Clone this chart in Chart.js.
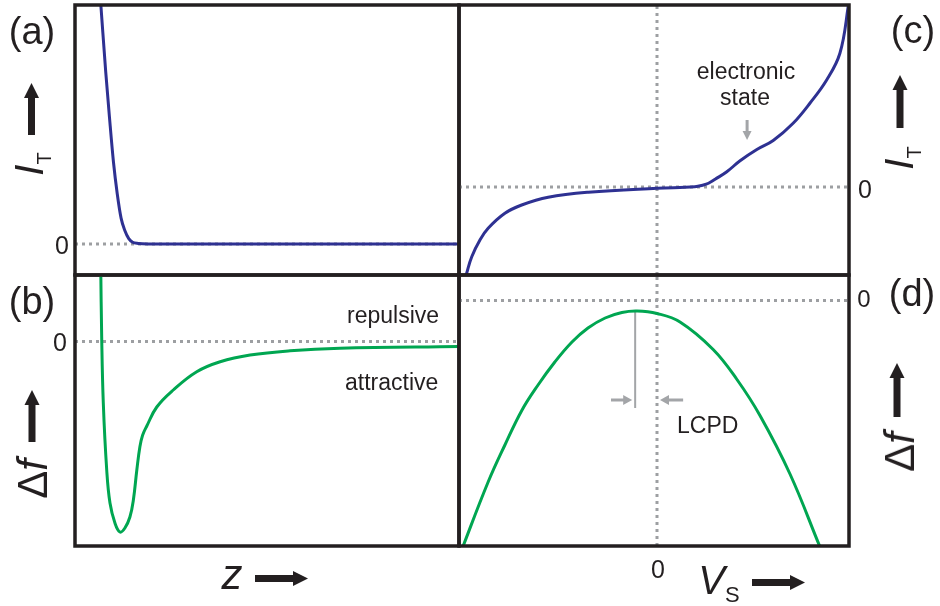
<!DOCTYPE html>
<html>
<head>
<meta charset="utf-8">
<script src="https://cdn.jsdelivr.net/npm/chart.js@4.4.1/dist/chart.umd.min.js"></script>
<style>
html, body { margin: 0; padding: 0; background: #fff; }
#wrap { position: relative; width: 940px; height: 606px; overflow: hidden; font-family: "Liberation Sans", Arial, sans-serif; color: #231f20; }
canvas { position: absolute; left: 0; top: 0; }
.t { position: absolute; line-height: 1; white-space: nowrap; transform: translate(-50%, -50%); }
.l { position: absolute; line-height: 1; white-space: nowrap; transform: translate(0, -50%); }
.rot { transform: translate(-50%, -50%) rotate(-90deg); }
.sub { font-style: normal; line-height: 0; }
</style>
</head>
<body>
<div id="wrap">
  <canvas id="pa" width="940" height="606"></canvas>
  <canvas id="pb" width="940" height="606"></canvas>
  <canvas id="pc" width="940" height="606"></canvas>
  <canvas id="pd" width="940" height="606"></canvas>

  <div class="t" style="left:32px;top:31px;font-size:38px">(a)</div>
  <div class="t" style="left:32px;top:301px;font-size:38px">(b)</div>
  <div class="t" style="left:913px;top:30px;font-size:38px">(c)</div>
  <div class="t" style="left:912px;top:293px;font-size:38px">(d)</div>

  <div class="t" style="left:62px;top:245px;font-size:25px">0</div>
  <div class="t" style="left:60px;top:342px;font-size:25px">0</div>
  <div class="t" style="left:865px;top:189px;font-size:25px">0</div>
  <div class="t" style="left:864px;top:299px;font-size:24px">0</div>
  <div class="t" style="left:658px;top:569px;font-size:25px">0</div>

  <div class="t rot" style="left:29px;top:164px;font-size:40px"><i>I</i><span class="sub" style="font-size:20px;vertical-align:-8px">T</span></div>
  <div class="t rot" style="left:899px;top:158px;font-size:40px"><i>I</i><span class="sub" style="font-size:20px;vertical-align:-8px">T</span></div>
  <div class="t rot" style="left:33px;top:479px;font-size:42px">&Delta;<i>f</i></div>
  <div class="t rot" style="left:900px;top:452px;font-size:42px">&Delta;<i>f</i></div>

  <div class="t" style="left:232px;top:575px;font-size:42px"><i>z</i></div>
  <div class="t" style="left:719px;top:580px;font-size:40px"><i>V</i><span class="sub" style="font-size:22px;vertical-align:-8px">S</span></div>

  <div class="l" style="left:347px;top:315px;font-size:23px">repulsive</div>
  <div class="l" style="left:345px;top:382px;font-size:23px">attractive</div>
  <div class="t" style="left:746px;top:71px;font-size:23px">electronic</div>
  <div class="t" style="left:745px;top:97px;font-size:23px">state</div>
  <div class="l" style="left:677px;top:425px;font-size:23px">LCPD</div>
</div>
<script>
// (a) tunnelling current I_T against distance z
const zA = [0.62, 0.7, 0.8, 0.9, 1.0, 1.1, 1.2, 1.3, 1.4, 1.5, 1.65, 1.9, 3, 10]
const iA = [11.2, 9.4, 7.2, 5.25, 3.45, 2.1, 1.08, 0.55, 0.22, 0.07, 0.02, 0, 0, 0]

// (b) frequency shift against distance z
const zB = [0.67, 0.695, 0.737, 0.826, 0.911, 1.04, 1.17, 1.3, 1.43, 1.52, 1.61, 1.69, 1.76, 1.87, 2.13, 2.56, 3.17, 3.78, 4.56, 5.6, 6.9, 10]
const dfB = [3.0, 0.18, -2.46, -5.14, -6.46, -7.26, -7.62, -7.46, -7.02, -6.34, -5.14, -4.21, -3.75, -3.38, -2.62, -1.94, -1.21, -0.81, -0.54, -0.37, -0.27, -0.2]

// (c) tunnelling current against sample bias
const vC = [-4.95, -4.88, -4.75, -4.54, -4.33, -3.9, -3.47, -2.79, -1.76, 0, 0.97, 1.19, 1.32, 1.49, 1.79, 2.13, 2.56, 2.98, 3.49, 3.92, 4.35, 4.69, 4.9, 5.0]
const iC = [-3.88, -3.45, -2.79, -2.12, -1.65, -1.05, -0.72, -0.41, -0.21, -0.05, 0.01, 0.08, 0.15, 0.31, 0.61, 1.05, 1.5, 1.86, 2.55, 3.35, 4.28, 5.35, 7.2, 8.5]

// (d) frequency shift against sample bias (Kelvin parabola)
const vD = [-5.03, -4.97, -4.33, -3.9, -3.46, -3.05, -2.62, -2.18, -1.77, -1.33, -0.9, -0.51, 0, 0.59, 1.44, 2.05, 2.64, 3.41, 4.18, 4.28]
const dfD = [-10.1, -9.82, -7.26, -5.78, -4.38, -3.38, -2.46, -1.66, -1.1, -0.7, -0.48, -0.42, -0.52, -0.86, -1.96, -3.16, -4.6, -6.94, -9.86, -10.22]

// LCPD marker: bias of the parabola maximum and the arrow level
const vMax = -0.56
const dfMaxTop = -0.42
const dfMarkBottom = -4.3
const dfArrow = -3.98

const W = 940, H = 606
const BLUE = '#2e3192', GREEN = '#00a651', DOT = '#9d9fa2', GREY = '#a3a5a8', INK = '#231f20'

const pts = (xs, ys) => xs.map((x, i) => ({ x, y: ys[i] }))
const curve = (data, color) => ({ data, borderColor: color, borderWidth: 3, cubicInterpolationMode: 'monotone' })
const smooth = (data, color) => ({ data, borderColor: color, borderWidth: 3, tension: 0.4 })
const dotted = data => ({ data, borderColor: DOT, borderWidth: 3, borderDash: [3, 4], tension: 0 })

function arrow(ctx, x1, y1, x2, y2, shaft, headL, headW, color) {
  const len = Math.hypot(x2 - x1, y2 - y1)
  const ux = (x2 - x1) / len, uy = (y2 - y1) / len
  const bx = x2 - ux * headL, by = y2 - uy * headL
  ctx.save()
  ctx.strokeStyle = color
  ctx.fillStyle = color
  ctx.lineWidth = shaft
  ctx.beginPath()
  ctx.moveTo(x1, y1)
  ctx.lineTo(bx + ux, by + uy)
  ctx.stroke()
  ctx.beginPath()
  ctx.moveTo(x2, y2)
  ctx.lineTo(bx - uy * headW / 2, by + ux * headW / 2)
  ctx.lineTo(bx + uy * headW / 2, by - ux * headW / 2)
  ctx.closePath()
  ctx.fill()
  ctx.restore()
}

const frame = {
  id: 'frame',
  afterDatasetsDraw(chart) {
    const { ctx, chartArea: a } = chart
    ctx.save()
    ctx.strokeStyle = INK
    ctx.lineWidth = 3.5
    ctx.strokeRect(a.left, a.top, a.right - a.left, a.bottom - a.top)
    ctx.restore()
  },
}

function panel(id, box, xr, yr, datasets, extra) {
  return new Chart(document.getElementById(id), {
    type: 'line',
    data: { datasets },
    options: {
      animation: false,
      responsive: false,
      events: [],
      layout: { padding: { left: box[0], top: box[1], right: W - box[2], bottom: H - box[3] } },
      scales: {
        x: { type: 'linear', display: false, min: xr[0], max: xr[1] },
        y: { type: 'linear', display: false, min: yr[0], max: yr[1] },
      },
      plugins: { legend: { display: false }, tooltip: { enabled: false } },
      elements: { point: { radius: 0 }, line: { fill: false } },
    },
    plugins: [frame].concat(extra || []),
  })
}

const zRange = [0, 10]
const vRange = [-5.077, 4.923]
const aY = [-1.3, 10], bY = [-8.18, 2.66], cY = [-3.52, 7.28], dY = [-9.82, 1.02]

panel('pa', [75, 5, 459, 275], zRange, aY, [
  curve(pts(zA, iA), BLUE),
  dotted([{ x: zRange[0], y: 0 }, { x: zRange[1], y: 0 }]),
])

panel('pb', [75, 275, 459, 546], zRange, bY, [
  smooth(pts(zB, dfB), GREEN),
  dotted([{ x: zRange[0], y: 0 }, { x: zRange[1], y: 0 }]),
])

const stateArrow = {
  id: 'stateArrow',
  afterDatasetsDraw(chart) {
    const { x, y } = chart.scales
    arrow(chart.ctx, x.getPixelForValue(2.31), y.getPixelForValue(2.68), x.getPixelForValue(2.31), y.getPixelForValue(1.88), 3, 9, 9, GREY)
  },
}
panel('pc', [459, 5, 849, 275], vRange, cY, [
  smooth(pts(vC, iC), BLUE),
  dotted([{ x: vRange[0], y: 0 }, { x: vRange[1], y: 0 }]),
  dotted([{ x: 0, y: cY[0] }, { x: 0, y: cY[1] }]),
], [stateArrow])

const lcpd = {
  id: 'lcpd',
  afterDatasetsDraw(chart) {
    const { x, y } = chart.scales
    const ctx = chart.ctx
    const ya = y.getPixelForValue(dfArrow)
    arrow(ctx, x.getPixelForValue(-1.18), ya, x.getPixelForValue(vMax) - 3, ya, 3, 9, 10, GREY)
    arrow(ctx, x.getPixelForValue(0.67), ya, x.getPixelForValue(0) + 3, ya, 3, 9, 10, GREY)
    // big axis arrows
    arrow(ctx, 31.5, 135, 31.5, 83, 7, 15, 15, INK)
    arrow(ctx, 32, 442, 32, 390, 7, 15, 15, INK)
    arrow(ctx, 900, 128, 900, 75, 7, 15, 15, INK)
    arrow(ctx, 897, 417, 897, 363, 7, 15, 15, INK)
    arrow(ctx, 255, 578.5, 308, 578.5, 7, 15, 15, INK)
    arrow(ctx, 752, 582.5, 805, 582.5, 7, 15, 15, INK)
  },
}
panel('pd', [459, 275, 849, 546], vRange, dY, [
  smooth(pts(vD, dfD), GREEN),
  { data: [{ x: vMax, y: dfMaxTop }, { x: vMax, y: dfMarkBottom }], borderColor: GREY, borderWidth: 2, tension: 0 },
  dotted([{ x: vRange[0], y: 0 }, { x: vRange[1], y: 0 }]),
  dotted([{ x: 0, y: dY[0] }, { x: 0, y: dY[1] }]),
], [lcpd])
</script>
</body>
</html>
